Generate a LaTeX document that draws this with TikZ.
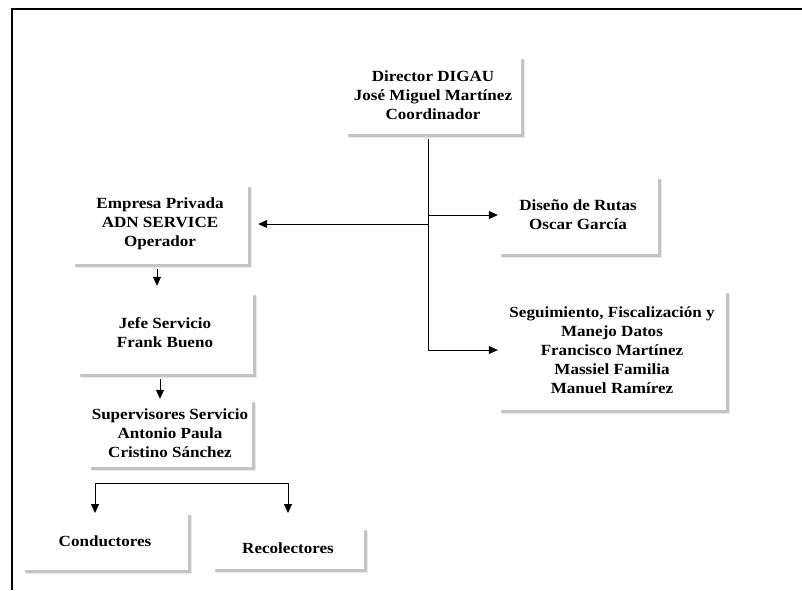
\documentclass[tikz,border=0pt]{standalone}
\usepackage{fontspec}
\setmainfont{Liberation Serif}[FakeStretch=1.1]
\usepackage{tikz}
\usetikzlibrary{arrows.meta,shadows}

\begin{document}
\begin{tikzpicture}[x=1pt, y=-1pt,
	orgbox/.style={fill=white, align=center, inner sep=0,
		font=\bfseries\fontsize{15.5}{19}\selectfont,
		drop shadow={shadow xshift=4pt, shadow yshift=-4pt, fill=gray!35},
		drop shadow={shadow xshift=3pt, shadow yshift=-3pt, fill=gray!75}},
	arr/.style={line width=0.8pt, -{Triangle[length=9pt, width=8pt]}}
]
\useasboundingbox (0,0) rectangle (802,590);
\draw[line width=2pt] (12,590) -- (12,9) -- (802,9);

\node[orgbox, minimum width=176, minimum height=78] (director) at (433,95) {Director DIGAU\\José Miguel Martínez\\Coordinador};
\node[orgbox, minimum width=176, minimum height=80] (empresa) at (160,224) {Empresa Privada\\ADN SERVICE\\Operador};
\node[orgbox, minimum width=176, minimum height=82] (jefe) at (165,333) {Jefe Servicio\\Frank Bueno};
\node[orgbox, minimum width=164, minimum height=68] (superv) at (170,433) {Supervisores Servicio\\Antonio Paula\\Cristino Sánchez};
\node[orgbox, minimum width=166, minimum height=58] (cond) at (105,541) {Conductores};
\node[orgbox, minimum width=152, minimum height=42] (recol) at (288,548) {Recolectores};
\node[orgbox, minimum width=160, minimum height=78] (diseno) at (578,215) {Diseño de Rutas\\Oscar García};
\node[orgbox, minimum width=228, minimum height=120] (segui) at (612,350) {Seguimiento, Fiscalización y\\Manejo Datos\\Francisco Martínez\\Massiel Familia\\Manuel Ramírez};

\coordinate (trunk) at ([shift={(-5,5)}]director.south);
\draw[arr] (trunk) |- (segui.west);
\draw[arr] (trunk |- diseno.west) -- (diseno.west);
\draw[arr] (trunk |- empresa.east) -- ([xshift=10pt]empresa.east);

\draw[arr] ([shift={(-3,5)}]empresa.south) -- ([shift={(-3,-6)}]empresa.south |- jefe.north);
\draw[arr] ([shift={(-5,5)}]jefe.south) -- ([xshift=-5pt]jefe.south |- superv.north);

\coordinate (brL) at (95,483);
\coordinate (brR) at (288,483);
\coordinate (tipL) at (95,513);
\coordinate (tipR) at (288,513);
\draw[arr] (brR) -- (brL) -- (tipL);
\draw[arr] (brR) -- (tipR);
\end{tikzpicture}
\end{document}
